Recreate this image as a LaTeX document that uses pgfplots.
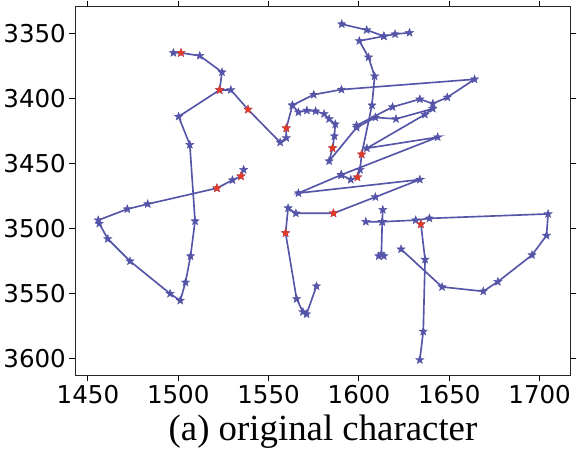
\documentclass[border=0pt]{standalone}
\usepackage{fontspec}
\setmainfont{DejaVu Sans}
\newfontfamily\capfont{Liberation Serif}
\usepackage{pgfplots}
\pgfplotsset{compat=1.18}
\definecolor{strokeblue}{RGB}{84,84,168}
\definecolor{keyred}{RGB}{226,58,40}

% filled five-pointed star, like matplotlib's '*'
\pgfdeclareplotmark{fstar}{%
  \pgfpathmoveto{\pgfpointpolar{90}{\pgfplotmarksize}}%
  \pgfpathlineto{\pgfpointpolar{126}{0.42\pgfplotmarksize}}%
  \pgfpathlineto{\pgfpointpolar{162}{\pgfplotmarksize}}%
  \pgfpathlineto{\pgfpointpolar{198}{0.42\pgfplotmarksize}}%
  \pgfpathlineto{\pgfpointpolar{234}{\pgfplotmarksize}}%
  \pgfpathlineto{\pgfpointpolar{270}{0.42\pgfplotmarksize}}%
  \pgfpathlineto{\pgfpointpolar{306}{\pgfplotmarksize}}%
  \pgfpathlineto{\pgfpointpolar{342}{0.42\pgfplotmarksize}}%
  \pgfpathlineto{\pgfpointpolar{18}{\pgfplotmarksize}}%
  \pgfpathlineto{\pgfpointpolar{54}{0.42\pgfplotmarksize}}%
  \pgfpathclose
  \pgfusepathqfillstroke}

\pgfplotsset{
  stk/.style={strokeblue, solid, line width=1.6bp,
      mark=fstar, mark size=4.2bp,
      mark options={solid, fill=strokeblue, draw=strokeblue, line width=0.4bp}},
}

\begin{document}
\begin{tikzpicture}
\begin{axis}[
    scale only axis,
    width=482bp, height=359bp,
    xmin=1443.2, xmax=1717,
    ymin=3329.7, ymax=3612.9,
    y dir=reverse,
    xtick={1450,1500,...,1700},
    ytick={3350,3400,...,3600},
    tick align=outside,
    major tick length=6bp,
    tick style={black, line width=1bp},
    axis line style={black!85, line width=1.2bp},
    tick label style={font=\fontsize{24}{26}\selectfont},
    /pgf/number format/assume math mode=true,
    /pgf/number format/1000 sep={},
    xlabel={(a) original character},
    xlabel style={font=\capfont\fontsize{36}{38}\selectfont, yshift=-4bp},
]
% stroke through the left loop
\addplot[stk] coordinates {
(1497.3,3365.2) (1501.5,3365.2) (1511.9,3367.4) (1524.2,3380.0)
(1522.9,3393.7) (1500.2,3414.2) (1506.4,3435.8) (1509.3,3494.5)
(1506.8,3521.4) (1504.0,3541.6) (1501.1,3555.6) (1495.5,3550.3)
(1473.3,3525.3) (1461.0,3508.2) (1456.3,3496.4) (1455.7,3493.8)
(1471.8,3485.3) (1483.1,3481.4) (1521.4,3469.2) (1530.0,3463.0)
(1534.7,3460.0) (1536.2,3455.0)
};
\addplot[stk] coordinates {
(1522.9,3393.7) (1529.1,3393.7) (1538.6,3408.7) (1556.4,3434.0)
(1559.8,3430.6) (1559.8,3423.1) (1563.2,3405.5) (1575.0,3397.3)
(1590.3,3393.4) (1664.0,3385.5) (1648.9,3399.4) (1640.9,3404.2)
(1633.7,3400.8) (1618.6,3406.8) (1598.7,3421.0)
};
\addplot[stk] coordinates {
(1563.2,3405.5) (1566.5,3410.8) (1571.2,3409.5) (1576.0,3410.0)
(1580.7,3412.1) (1583.5,3416.0) (1586.9,3420.0) (1586.4,3429.2)
(1585.4,3438.4) (1583.5,3448.4) (1598.7,3422.6) (1609.1,3414.8)
(1620.5,3416.0) (1640.9,3408.1) (1636.5,3412.6) (1604.4,3438.5)
(1643.6,3430.0) (1590.2,3459.0)
};
% top stroke and stem
\addplot[stk] coordinates {
(1590.5,3343.1) (1604.3,3347.6) (1613.8,3352.4) (1620.0,3350.8) (1628.0,3349.7)
};
\addplot[stk] coordinates {
(1613.8,3352.4) (1600.2,3356.0) (1605.3,3368.6) (1608.7,3383.2)
(1607.2,3405.5) (1601.5,3443.2) (1600.6,3455.0) (1599.2,3460.8)
(1595.5,3462.6) (1590.2,3459.0)
};
\addplot[stk] coordinates {
(1590.2,3459.0) (1566.5,3473.0) (1633.7,3462.6) (1609.1,3476.0)
(1585.9,3488.5) (1565.1,3488.5) (1560.8,3484.5) (1559.4,3503.7)
(1565.5,3554.3) (1569.0,3564.3) (1571.0,3566.0) (1576.5,3544.5)
};
% right hook
\addplot[stk] coordinates {
(1603.8,3495.0) (1612.9,3495.0) (1631.4,3493.8) (1639.0,3492.4)
(1704.7,3489.0) (1703.8,3505.6) (1695.8,3520.6) (1676.9,3541.1)
(1668.8,3548.5) (1646.0,3545.1) (1623.3,3516.1)
};
\addplot[stk] coordinates {
(1613.2,3485.8) (1612.9,3495.0) (1612.4,3520.0) (1611.0,3521.4) (1613.8,3521.4)
};
\addplot[stk] coordinates {
(1634.3,3496.9) (1636.6,3524.0) (1635.6,3579.3) (1633.7,3601.2)
};
% key points
\addplot[only marks, mark=fstar, mark size=4.2bp,
    mark options={fill=keyred, draw=keyred, line width=0.4bp}] coordinates {
(1501.5,3365.2) (1522.9,3393.7) (1538.6,3408.7) (1559.8,3423.1)
(1521.4,3469.2) (1534.7,3460.0) (1585.4,3438.4) (1601.5,3443.2)
(1599.2,3460.8) (1585.9,3488.5) (1559.4,3503.7) (1634.3,3496.9)
};
\end{axis}
\end{tikzpicture}
\end{document}
